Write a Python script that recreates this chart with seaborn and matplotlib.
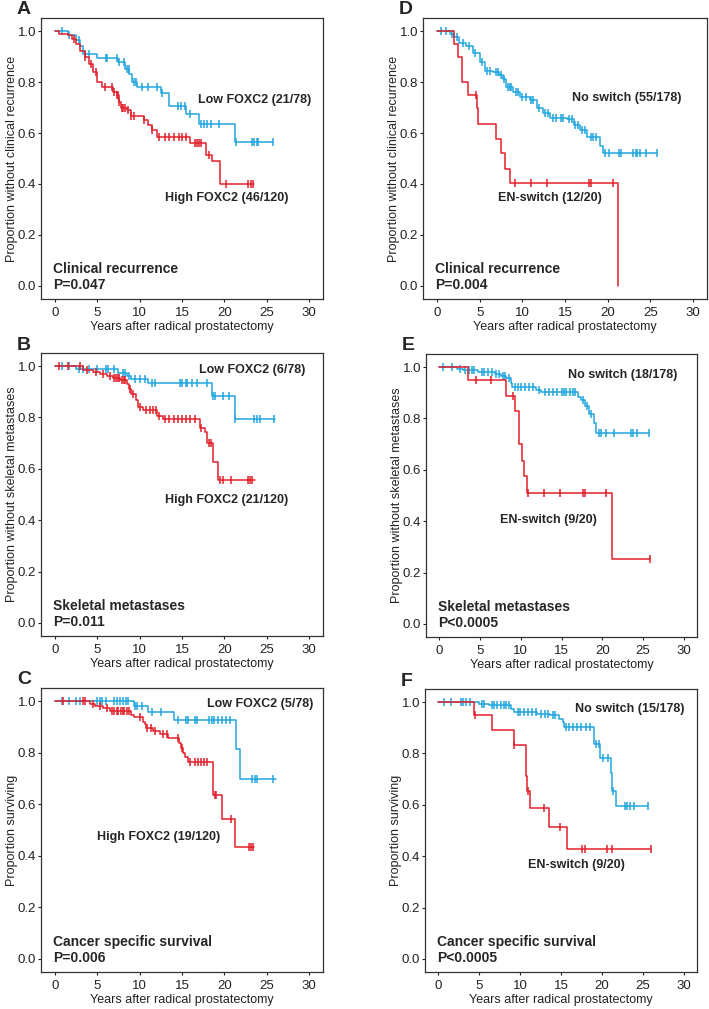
import numpy as np
import pandas as pd
import matplotlib
matplotlib.use('Agg')
import matplotlib.pyplot as plt
import seaborn as sns

# Kaplan-Meier curves: event times, survival after each event, censor times, end of follow-up

# A - clinical recurrence, FOXC2
a_low_t = [1.5, 2.5, 3.0, 3.3, 5.0, 7.5, 8.3, 8.8, 9.1, 9.7, 12.5, 13.5, 15.5, 17.0, 21.3]
a_low_s = [0.985, 0.965, 0.94, 0.91, 0.895, 0.88, 0.85, 0.83, 0.80, 0.78, 0.755, 0.705, 0.675, 0.637, 0.565]
a_low_c = [0.8, 1.7, 2.8, 3.5, 4.0, 6.0, 6.1, 7.3, 7.6, 8.2, 8.5, 8.7, 9.3, 9.6, 10.3, 11.0, 12.0, 12.6,
           14.5, 14.9, 15.3, 16.0, 17.3, 17.6, 18.0, 18.4, 19.4, 21.4, 23.3, 23.5, 23.8, 24.0, 25.7]
a_high_t = [0.5, 1.5, 2.0, 2.5, 3.0, 3.5, 4.0, 4.5, 5.0, 5.5, 6.8, 7.3, 7.6, 7.8, 8.5, 9.0, 10.5, 11.0,
            11.5, 12.0, 16.0, 17.8, 18.5, 19.5]
a_high_s = [0.99, 0.985, 0.97, 0.95, 0.92, 0.90, 0.87, 0.84, 0.80, 0.78, 0.76, 0.75, 0.72, 0.70, 0.69,
            0.665, 0.65, 0.63, 0.61, 0.585, 0.56, 0.515, 0.49, 0.40]
a_high_c = [2.3, 3.6, 4.2, 4.8, 5.9, 6.7, 7.0, 7.3, 7.4, 7.6, 7.9, 8.0, 8.3, 8.6, 9.0, 9.3, 10.5, 11.5,
            12.3, 13.0, 13.5, 14.0, 14.6, 15.0, 15.5, 16.5, 16.8, 17.0, 17.3, 18.2, 20.2, 22.8, 23.1, 23.4]
a_low_end, a_high_end = 25.7, 23.5

# B - skeletal metastases, FOXC2
b_low_t = [2.5, 7.5, 8.5, 9.0, 11.0, 18.5, 21.2]
b_low_s = [0.988, 0.975, 0.962, 0.948, 0.933, 0.883, 0.795]
b_low_c = [0.8, 1.7, 2.8, 3.3, 4.0, 5.0, 6.0, 6.3, 7.0, 8.0, 8.3, 8.8, 9.5, 10.0, 10.6, 11.5, 11.8,
           14.8, 15.0, 15.5, 15.6, 16.2, 16.8, 18.0, 18.7, 18.9, 19.8, 20.6, 21.3, 23.5, 23.8, 24.2, 25.9]
b_high_t = [3.3, 4.5, 5.3, 6.1, 6.9, 7.7, 8.5, 8.7, 9.0, 9.6, 9.8, 10.4, 12.0, 12.8, 17.1, 17.7, 17.9,
            18.7, 19.3]
b_high_s = [0.984, 0.978, 0.97, 0.963, 0.952, 0.945, 0.93, 0.91, 0.89, 0.867, 0.84, 0.83, 0.805, 0.795,
            0.758, 0.742, 0.70, 0.627, 0.557]
b_high_c = [0.5, 1.5, 3.0, 3.8, 4.8, 5.7, 6.5, 7.0, 7.2, 7.4, 7.6, 7.9, 8.1, 8.3, 8.9, 9.2, 10.0, 10.8,
            11.2, 11.6, 11.9, 12.3, 13.0, 13.5, 14.0, 14.5, 15.0, 15.5, 16.0, 16.5, 17.2, 18.2, 18.4,
            19.5, 19.8, 20.8, 22.8, 23.0, 23.3]
b_low_end, b_high_end = 26.0, 23.6

# C - cancer specific survival, FOXC2
c_low_t = [9.3, 11.0, 14.0, 21.4, 21.8]
c_low_s = [0.98, 0.957, 0.928, 0.815, 0.698]
c_low_c = [0.8, 1.7, 2.5, 2.9, 5.0, 5.3, 5.6, 6.0, 7.0, 7.3, 7.7, 8.0, 8.4, 8.6, 9.5, 9.7, 10.3, 11.5,
           12.5, 14.5, 15.5, 15.7, 16.5, 16.8, 18.2, 18.5, 18.8, 19.3, 19.7, 20.2, 20.7, 23.3, 23.6,
           23.9, 25.8]
c_high_t = [4.1, 4.7, 5.7, 6.5, 9.0, 9.3, 10.4, 10.6, 10.8, 11.6, 12.4, 13.4, 14.7, 14.9, 15.1, 15.3,
            15.7, 18.7, 19.7, 21.2]
c_high_s = [0.99, 0.983, 0.974, 0.96, 0.948, 0.94, 0.92, 0.91, 0.896, 0.883, 0.874, 0.857, 0.837,
            0.818, 0.80, 0.785, 0.762, 0.635, 0.544, 0.434]
c_high_c = [1.0, 3.3, 3.6, 4.5, 5.3, 6.2, 6.7, 7.0, 7.3, 7.5, 7.8, 8.0, 8.2, 8.5, 8.8, 10.0, 10.9,
            11.3, 11.8, 12.8, 13.2, 14.5, 15.0, 16.0, 16.5, 16.9, 17.3, 17.6, 18.0, 18.9, 19.0, 20.8,
            22.9, 23.1, 23.4]
c_low_end, c_high_end = 26.1, 23.5

# D - clinical recurrence, EN-switch
d_no_t = [1.5, 2.0, 2.6, 3.4, 4.2, 5.0, 5.6, 6.6, 7.3, 7.7, 8.1, 8.9, 9.7, 10.9, 11.7, 12.4, 13.2,
          15.2, 16.0, 16.8, 17.6, 19.1, 19.5]
d_no_s = [0.99, 0.978, 0.954, 0.94, 0.912, 0.88, 0.844, 0.84, 0.827, 0.81, 0.78, 0.76, 0.74, 0.73,
          0.70, 0.68, 0.66, 0.655, 0.63, 0.61, 0.585, 0.55, 0.52]
d_no_c = [0.5, 1.0, 1.8, 2.3, 3.0, 3.7, 4.5, 5.3, 5.8, 6.2, 6.9, 7.1, 7.5, 7.9, 8.3, 8.5, 8.7, 9.2,
          9.5, 10.0, 10.4, 11.0, 11.3, 12.0, 12.7, 13.0, 13.6, 14.0, 14.5, 14.8, 15.5, 15.8, 16.2, 16.5,
          17.0, 17.3, 18.0, 18.3, 18.6, 19.7, 20.2, 21.3, 21.6, 23.0, 23.3, 23.5, 23.8, 24.5, 25.8]
d_en_t = [2.0, 2.5, 2.9, 3.6, 4.7, 4.75, 6.95, 7.45, 7.95, 8.6, 21.2]
d_en_s = [0.95, 0.90, 0.80, 0.75, 0.70, 0.635, 0.575, 0.52, 0.46, 0.405, 0.0]
d_en_c = [4.6, 9.1, 11.0, 12.9, 17.8, 18.1, 20.6]
d_no_end, d_en_end = 25.8, 21.2

# E - skeletal metastases, EN-switch
e_no_t = [2.1, 2.9, 4.8, 6.8, 7.6, 8.2, 8.8, 8.9, 11.9, 12.5, 17.0, 17.4, 17.9, 18.4, 19.0, 19.3]
e_no_s = [0.993, 0.987, 0.98, 0.974, 0.967, 0.958, 0.94, 0.924, 0.911, 0.902, 0.883, 0.87, 0.848,
          0.818, 0.782, 0.742]
e_no_c = [0.5, 1.5, 2.5, 3.2, 3.6, 4.0, 4.3, 5.2, 5.5, 6.0, 6.5, 7.0, 7.3, 7.8, 8.0, 8.5, 9.3, 9.7,
          10.0, 10.5, 11.0, 11.5, 12.2, 13.0, 13.5, 14.0, 14.5, 15.0, 15.3, 15.6, 16.0, 16.4, 16.7,
          17.6, 18.1, 18.6, 19.6, 19.9, 20.5, 21.5, 23.5, 23.8, 24.3, 25.8]
e_en_t = [3.5, 8.2, 9.3, 9.75, 10.1, 10.4, 10.7, 21.2]
e_en_s = [0.948, 0.889, 0.828, 0.70, 0.635, 0.576, 0.508, 0.254]
e_en_c = [4.5, 6.3, 9.0, 10.9, 12.8, 14.8, 17.6, 17.9, 20.5, 25.9]
e_no_end, e_en_end = 25.8, 25.9

# F - cancer specific survival, EN-switch
f_no_t = [5.0, 6.2, 8.9, 9.3, 12.1, 13.7, 14.8, 15.2, 15.4, 19.0, 19.8, 21.1, 21.3, 21.7]
f_no_s = [0.992, 0.987, 0.974, 0.963, 0.954, 0.948, 0.935, 0.924, 0.902, 0.837, 0.784, 0.725,
          0.654, 0.595]
f_no_c = [0.7, 1.5, 2.7, 3.0, 3.4, 3.9, 5.3, 5.6, 6.5, 6.8, 7.2, 7.6, 8.0, 8.3, 8.6, 9.7, 10.0, 10.5,
          11.0, 11.5, 12.0, 12.6, 13.0, 13.4, 14.0, 14.3, 15.6, 16.0, 16.5, 17.0, 17.5, 18.0, 18.5,
          19.3, 19.6, 20.2, 20.8, 21.4, 22.8, 23.1, 23.5, 23.9, 25.7]
f_en_t = [4.3, 6.5, 9.25, 10.75, 10.85, 11.2, 13.5, 15.7]
f_en_s = [0.95, 0.89, 0.833, 0.712, 0.655, 0.588, 0.514, 0.427]
f_en_c = [4.5, 9.3, 11.0, 12.95, 14.9, 17.6, 17.9, 20.6, 21.3, 26.0]
f_no_end, f_en_end = 25.7, 26.0

blue = '#22a6de'
red = '#e21f2b'

ylab_cr = 'Proportion without clinical recurrence'
ylab_sm = 'Proportion without skeletal metastases'
ylab_cs = 'Proportion surviving'

panels = [
    dict(letter='A', rect=[41, 18, 323, 299], ylab=ylab_cr,
         curves=[(a_low_t, a_low_s, a_low_c, a_low_end, blue), (a_high_t, a_high_s, a_high_c, a_high_end, red)],
         labels=[(16.9, 0.73, 'Low FOXC2 (21/78)'), (13.05, 0.344, 'High FOXC2 (46/120)')],
         title='Clinical recurrence', p='P=0.047'),
    dict(letter='B', rect=[41, 353, 323, 636], ylab=ylab_sm,
         curves=[(b_low_t, b_low_s, b_low_c, b_low_end, blue), (b_high_t, b_high_s, b_high_c, b_high_end, red)],
         labels=[(17.0, 0.984, 'Low FOXC2 (6/78)'), (13.05, 0.478, 'High FOXC2 (21/120)')],
         title='Skeletal metastases', p='P=0.011'),
    dict(letter='C', rect=[41, 688, 323, 972], ylab=ylab_cs,
         curves=[(c_low_t, c_low_s, c_low_c, c_low_end, blue), (c_high_t, c_high_s, c_high_c, c_high_end, red)],
         labels=[(17.9, 0.99, 'Low FOXC2 (5/78)'), (5.0, 0.473, 'High FOXC2 (19/120)')],
         title='Cancer specific survival', p='P=0.006'),
    dict(letter='D', rect=[423, 18, 707, 299], ylab=ylab_cr,
         curves=[(d_no_t, d_no_s, d_no_c, d_no_end, blue), (d_en_t, d_en_s, d_en_c, d_en_end, red)],
         labels=[(15.8, 0.736, 'No switch (55/178)'), (7.2, 0.344, 'EN-switch (12/20)')],
         title='Clinical recurrence', p='P=0.004'),
    dict(letter='E', rect=[426, 354, 697, 637], ylab=ylab_sm,
         curves=[(e_no_t, e_no_s, e_no_c, e_no_end, blue), (e_en_t, e_en_s, e_en_c, e_en_end, red)],
         labels=[(15.8, 0.971, 'No switch (18/178)'), (7.5, 0.404, 'EN-switch (9/20)')],
         title='Skeletal metastases', p='P<0.0005'),
    dict(letter='F', rect=[425, 689, 697, 972], ylab=ylab_cs,
         curves=[(f_no_t, f_no_s, f_no_c, f_no_end, blue), (f_en_t, f_en_s, f_en_c, f_en_end, red)],
         labels=[(16.7, 0.974, 'No switch (15/178)'), (11.0, 0.366, 'EN-switch (9/20)')],
         title='Cancer specific survival', p='P<0.0005'),
]

sns.set_style('ticks')
plt.rcParams['font.family'] = ['Liberation Sans', 'DejaVu Sans']

W, H = 709, 1009
fig = plt.figure(figsize=(W / 100, H / 100), dpi=100)

for pn in panels:
    x0, y0, x1, y1 = pn['rect']
    ax = fig.add_axes([x0 / W, 1 - y1 / H, (x1 - x0) / W, (y1 - y0) / H])
    for t, s, c, end, col in pn['curves']:
        # step curve starting at (0, 1)
        xs = [0.0] + list(t) + [end]
        ys = [1.0] + list(s) + [s[-1]]
        df = pd.DataFrame({'t': xs, 's': ys})
        sns.lineplot(data=df, x='t', y='s', ax=ax, color=col, lw=1.1,
                     drawstyle='steps-post', estimator=None, sort=False)
        # censor ticks sit on the curve
        tt = np.array(t)
        ss = np.array([1.0] + list(s))
        cs = ss[np.searchsorted(tt, np.array(c), side='right')]
        ax.plot(c, cs, ls='none', marker='|', ms=5.5, mew=1.1, color=col)
    for lx, ly, txt in pn['labels']:
        ax.text(lx, ly, txt, fontsize=9, fontweight='bold', va='center', ha='left')
    ax.text(-0.2, 0.065, pn['title'], fontsize=10, fontweight='bold', va='center', ha='left')
    ax.text(-0.2, 0.005, pn['p'], fontsize=10, fontweight='bold', va='center', ha='left')

    ax.set_xlim(-1.65, 31.65)
    ax.set_ylim(-0.051, 1.051)
    ax.set_xticks([0, 5, 10, 15, 20, 25, 30])
    ax.set_yticks([0.0, 0.2, 0.4, 0.6, 0.8, 1.0])
    ax.set_yticklabels(['0.0', '0.2', '0.4', '0.6', '0.8', '1.0'])
    ax.tick_params(labelsize=9.5, length=2.5, width=0.8, colors='#222222', pad=1)
    ax.tick_params(axis='x', pad=3)
    ax.set_xlabel('Years after radical prostatectomy', fontsize=9, labelpad=2, color='#222222')
    ax.set_ylabel(pn['ylab'], fontsize=9, labelpad=0, color='#222222')
    for sp in ax.spines.values():
        sp.set_visible(True)
        sp.set_linewidth(0.9)
        sp.set_color('#333333')
    fig.text((x0 - 24) / W, 1 - (y0 - 8) / H, pn['letter'], fontsize=14, fontweight='bold',
             va='center', ha='left')

fig.savefig('out.png', dpi=100)
